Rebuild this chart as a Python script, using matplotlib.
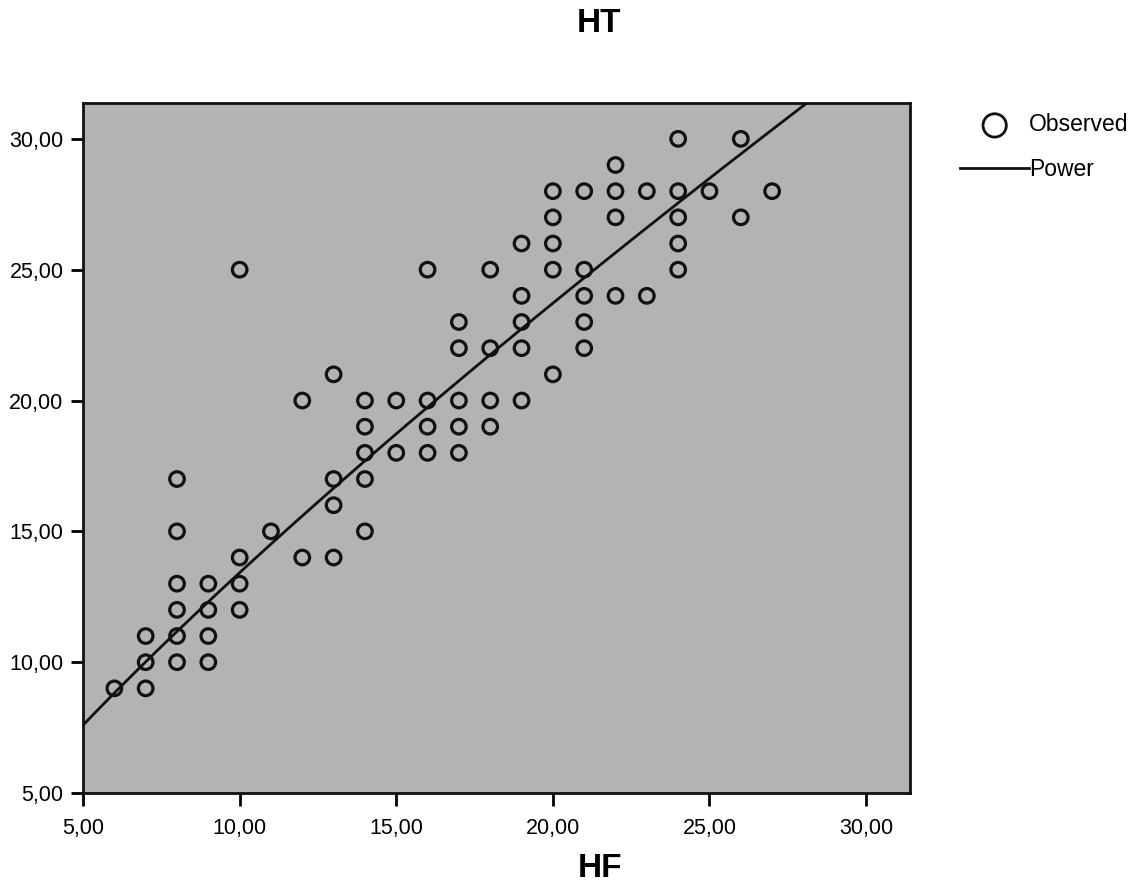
import matplotlib
matplotlib.use("Agg")
import matplotlib.pyplot as plt
from matplotlib.ticker import FuncFormatter
import numpy as np

# observed HF / HT pairs
hf = [6, 7, 7, 7, 8, 8, 8, 8, 8, 8, 9, 9, 9, 9, 10, 10, 10, 10, 11,
      12, 12, 13, 13, 13, 13, 14, 14, 14, 14, 14, 15, 15,
      16, 16, 16, 16, 17, 17, 17, 17, 17, 18, 18, 18, 18,
      19, 19, 19, 19, 19, 20, 20, 20, 20, 20, 21, 21, 21, 21, 21,
      22, 22, 22, 22, 23, 23, 24, 24, 24, 24, 24, 25, 26, 26, 27]
ht = [9, 9, 10, 11, 10, 11, 12, 13, 15, 17, 10, 11, 12, 13, 12, 13, 14, 25, 15,
      14, 20, 14, 16, 17, 21, 15, 17, 18, 19, 20, 18, 20,
      18, 19, 20, 25, 18, 19, 20, 22, 23, 19, 20, 22, 25,
      20, 22, 23, 24, 26, 21, 25, 26, 27, 28, 22, 23, 24, 25, 28,
      24, 27, 28, 29, 24, 28, 25, 26, 27, 28, 30, 28, 27, 30, 28]

# power curve HT = a * HF^b
power_a = 2.025
power_b = 0.8214

xticks = [5, 10, 15, 20, 25, 30]
yticks = [5, 10, 15, 20, 25, 30]

plt.rcParams['font.family'] = ['Liberation Sans', 'DejaVu Sans']

fig = plt.figure(figsize=(11.39, 8.84), dpi=100)
ax = fig.add_axes([0.0729, 0.1029, 0.726, 0.7806])
ax.set_facecolor('#b3b3b3')

ax.scatter(hf, ht, s=110, facecolors='none', edgecolors='#111111',
           linewidths=2.3, zorder=3, label='Observed')

xx = np.linspace(5, 31.4, 200)
ax.plot(xx, power_a * xx ** power_b, color='#111111', lw=2.0, zorder=2,
        label='Power')

ax.set_xlim(5, 31.4)
ax.set_ylim(5, 31.37)
ax.set_xticks(xticks)
ax.set_yticks(yticks)
comma = FuncFormatter(lambda v, p: ('%.2f' % v).replace('.', ','))
ax.xaxis.set_major_formatter(comma)
ax.yaxis.set_major_formatter(comma)
ax.tick_params(direction='out', length=9, width=2, labelsize=15.5, pad=5)
ax.tick_params(axis='x', pad=9)
for sp in ax.spines.values():
    sp.set_linewidth(2)
    sp.set_color('#111111')

fig.text(0.526, 0.973, 'HT', fontsize=24, fontweight='bold',
         ha='center', va='center')
fig.text(0.527, 0.017, 'HF', fontsize=24, fontweight='bold',
         ha='center', va='center')

h, l = ax.get_legend_handles_labels()
leg = fig.legend(h, l, loc='upper left', bbox_to_anchor=(0.825, 0.895),
                 frameon=False, handlelength=3.0, fontsize=16.5,
                 handletextpad=0.0, labelspacing=0.95, markerscale=1.6)
leg.legend_handles[0].set_linewidth(2.0)

fig.savefig('out.png', dpi=100)
